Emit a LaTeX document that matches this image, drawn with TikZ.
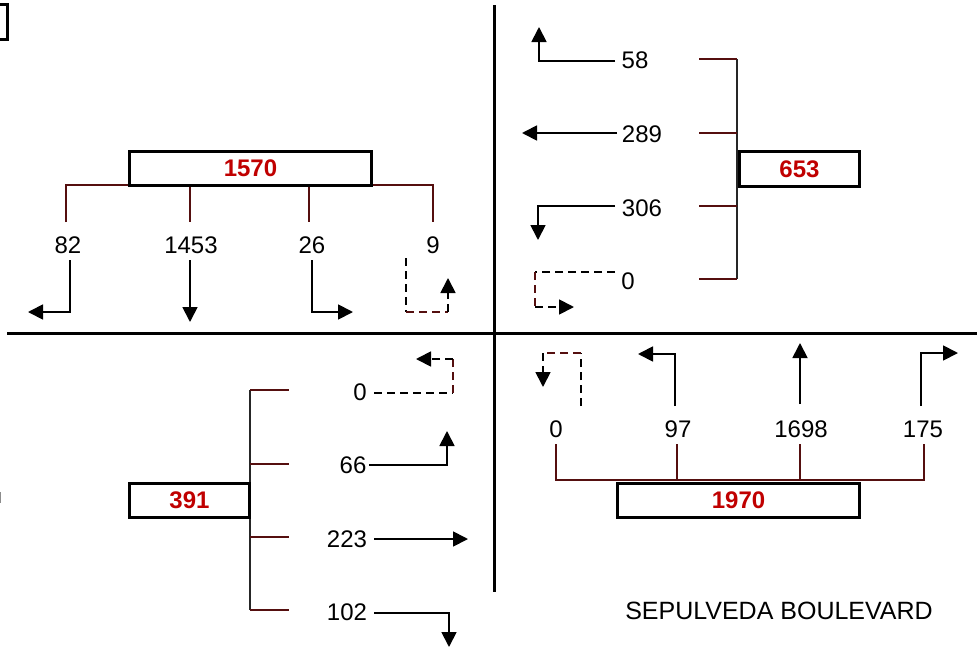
\documentclass[tikz,border=0pt]{standalone}
\usepackage{fontspec}
\setmainfont{Liberation Sans}
\usetikzlibrary{arrows.meta}
\definecolor{boxred}{RGB}{192,0,0}
\definecolor{brk}{RGB}{85,15,15}
\begin{document}
\begin{tikzpicture}[x=1pt,y=-1pt,
  lbl/.style={font=\fontsize{24}{28}\selectfont, inner sep=0pt, anchor=center},
  street/.style={font=\fontsize{25}{30}\selectfont, inner sep=0pt, anchor=center},
  tot/.style={draw, line width=3pt, font=\fontsize{24}{28}\selectfont\bfseries, text=boxred, inner sep=0pt, fill=white},
  brline/.style={draw=brk, line width=1.6pt},
  stem/.style={draw=black!85, line width=1.3pt},
  mv/.style={line width=1.8pt, -{Triangle[length=15pt,width=15pt]}},
  dseg/.style={line width=1.8pt, dash pattern=on 8pt off 5pt},
  dmv/.style={dseg, -{Triangle[length=15pt,width=15pt]}},
  road/.style={line width=3pt}
]
\useasboundingbox (0,0) rectangle (977,648);
\begin{scope}
\clip (0,0) rectangle (977,648);
\draw[line width=3pt] (-10,4) rectangle (7,39);
\draw[black!45, line width=1.5pt] (0.5,492) -- (0.5,503);
\end{scope}

% road lines
\coordinate (hL) at (7,333.5);
\coordinate (hR) at (977,333.5);
\coordinate (vT) at (494,5);
\coordinate (vB) at (494,592);
\draw[road] (hL) -- (hR);
\draw[road] (vT) -- (vB);

% ---------------- top-left : 1570 ----------------
\coordinate (tlA) at (66,185);
\coordinate (tlB) at (433,185);
\draw[brline] (66,222) -- (tlA) -- (tlB) -- (433,222);
\draw[brline] (190,185) -- (190,222);
\draw[brline] (309,185) -- (309,222);
\node[tot, minimum width=242, minimum height=34] (b1570) at (250.5,168) {1570};
\node[lbl] (n82) at (68,245) {82};
\node[lbl] (n1453) at (191,245) {1453};
\node[lbl] (n26) at (312,245) {26};
\node[lbl] (n9) at (433,245) {9};
\coordinate (a82) at (70,260);
\coordinate (a1453) at (190,260);
\coordinate (a26) at (312,260);
\coordinate (a9) at (406,258);
\draw[mv] (a82) -- (70,312) -- (28,312);
\draw[mv] (a1453) -- (190,322);
\draw[mv] (a26) -- (312,312) -- (353,312);
\draw[dseg] (a9) -- (406,312);
\draw[dseg, brk] (406,312) -- (448,312);
\draw[dmv] (448,312) -- (448,278);

% ---------------- top-right : 653 ----------------
\draw[stem] (737,59) -- (737,279);
\draw[brline] (699,59) -- (737,59);
\draw[brline] (699,133) -- (737,133);
\draw[brline] (699,206) -- (737,206);
\draw[brline] (699,279) -- (737,279);
\node[tot, minimum width=120, minimum height=35] (b653) at (799.5,169) {653};
\node[lbl] (n58) at (635,60) {58};
\node[lbl] (n289) at (642,134) {289};
\node[lbl] (n306) at (642,208) {306};
\node[lbl] (n0a) at (628,281) {0};
\coordinate (a58) at (615,61);
\coordinate (a289) at (617,133);
\coordinate (a306) at (615,206);
\coordinate (a0a) at (615,272);
\draw[mv] (a58) -- (539,61) -- (539,27);
\draw[mv] (a289) -- (522,133);
\draw[mv] (a306) -- (538,206) -- (538,240);
\draw[dseg] (a0a) -- (535,272);
\draw[dseg, brk] (535,272) -- (535,307);
\draw[dmv] (535,307) -- (574,307);

% ---------------- bottom-left : 391 ----------------
\draw[stem] (250,390) -- (250,610);
\draw[brline] (250,390) -- (289,390);
\draw[brline] (250,464) -- (289,464);
\draw[brline] (250,537) -- (289,537);
\draw[brline] (250,610) -- (289,610);
\node[tot, minimum width=120, minimum height=34] (b391) at (189.5,500.5) {391};
\node[lbl] (n0b) at (360,392) {0};
\node[lbl] (n66) at (353,465) {66};
\node[lbl] (n223) at (347,539) {223};
\node[lbl] (n102) at (347,612) {102};
\coordinate (a0b) at (374,393);
\coordinate (a66) at (369,465);
\coordinate (a223) at (374,539);
\coordinate (a102) at (374,613);
\draw[dseg] (a0b) -- (453,393);
\draw[dseg, brk] (453,393) -- (453,359);
\draw[dmv] (453,359) -- (416,359);
\draw[mv] (a66) -- (447,465) -- (447,431);
\draw[mv] (a223) -- (468,539);
\draw[mv] (a102) -- (449,613) -- (449,647);

% ---------------- bottom-right : 1970 ----------------
\draw[brline] (556,444) -- (556,480) -- (924,480) -- (924,444);
\draw[brline] (677,444) -- (677,480);
\draw[brline] (800,444) -- (800,480);
\node[tot, minimum width=242, minimum height=34] (b1970) at (738.5,500.5) {1970};
\node[lbl] (n0c) at (556,429) {0};
\node[lbl] (n97) at (678,429) {97};
\node[lbl] (n1698) at (801,429) {1698};
\node[lbl] (n175) at (923,429) {175};
\coordinate (a0c) at (581,406);
\coordinate (a97) at (675,406);
\coordinate (a1698) at (800,404);
\coordinate (a175) at (921,406);
\draw[dseg] (a0c) -- (581,353);
\draw[dseg, brk] (581,353) -- (543,353);
\draw[dmv] (543,353) -- (543,387);
\draw[mv] (a97) -- (675,354) -- (638,354);
\draw[mv] (a1698) -- (800,343);
\draw[mv] (a175) -- (921,353) -- (958,353);

\node[street] (sep) at (779,611) {SEPULVEDA BOULEVARD};
\end{tikzpicture}
\end{document}
